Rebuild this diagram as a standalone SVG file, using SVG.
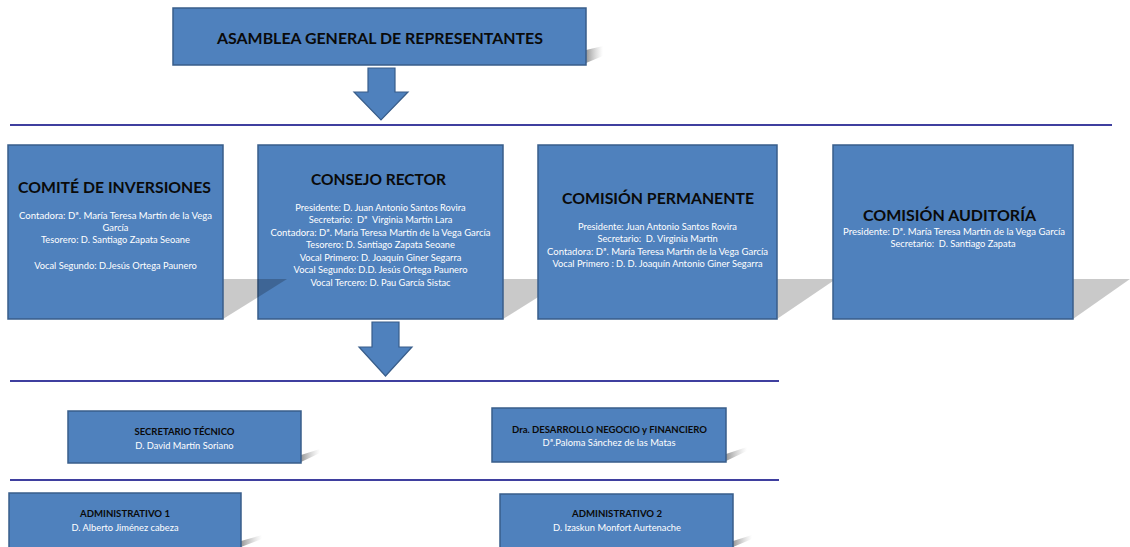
<svg xmlns="http://www.w3.org/2000/svg" width="1130" height="547" viewBox="0 0 1130 547">
<defs>
<linearGradient id="fade" x1="0" y1="0" x2="1" y2="0">
<stop offset="0" stop-color="#8a8a8a" stop-opacity="0.9"/>
<stop offset="1" stop-color="#bbbbbb" stop-opacity="0"/>
</linearGradient>
<style>
.box{fill:#4f81bd;stroke:#385d8a;stroke-width:1.5}
.shadow{fill:#000;fill-opacity:0.21}
.wisp{fill:url(#fade)}
.rule{stroke:#3f3f9f;stroke-width:2.2;fill:none}
.title{font-family:Lato,"Liberation Sans",sans-serif;font-weight:bold;fill:#0a0a0a;text-anchor:middle}
.t16{font-size:16px}
.t10{font-size:9.5px}
.txt{font-family:Lato,"Liberation Sans",sans-serif;font-size:9.3px;fill:#ffffff;text-anchor:middle}
.arrow{fill:#4f81bd;stroke:#385d8a;stroke-width:1.2}
</style>
</defs>
<rect width="1130" height="547" fill="#ffffff"/>

<g id="connectors">
<polygon class="arrow" points="368,68 395,68 395,92 408,92 381,120 354,92 368,92"/>
<line class="rule" x1="10" y1="125" x2="1112" y2="125"/>
<polygon class="arrow" points="372,322 399,322 399,347 412,347 385.5,376 359,347 372,347"/>
<line class="rule" x1="10" y1="381" x2="779" y2="381"/>
<line class="rule" x1="10" y1="480" x2="779" y2="480"/>
</g>

<g id="asamblea">
<polygon class="wisp" points="586,63 586,50 603,46 603,56"/>
<rect class="box" x="173" y="8" width="413" height="57"/>
<text class="title t16" x="380" y="43.5" textLength="326" lengthAdjust="spacingAndGlyphs">ASAMBLEA GENERAL DE REPRESENTANTES</text>
</g>

<g id="consejo">
<polygon class="shadow" points="258,319 503,319 567,279 322,279"/>
<rect class="box" x="258" y="145" width="245" height="174"/>
<text class="title t16" x="378.5" y="184.5" textLength="135" lengthAdjust="spacingAndGlyphs">CONSEJO RECTOR</text>
<text class="txt" x="380.5" y="211">Presidente: D. Juan Antonio Santos Rovira</text>
<text class="txt" x="380.5" y="223.3" xml:space="preserve">Secretario:  Dª  Virginia Martín Lara</text>
<text class="txt" x="380.5" y="235.6" textLength="220" lengthAdjust="spacingAndGlyphs">Contadora: Dª. María Teresa Martín de la Vega García</text>
<text class="txt" x="380.5" y="248.3">Tesorero: D. Santiago Zapata Seoane</text>
<text class="txt" x="380.5" y="260.6">Vocal Primero: D. Joaquín Giner Segarra</text>
<text class="txt" x="380.5" y="273.3">Vocal Segundo: D.D. Jesús Ortega Paunero</text>
<text class="txt" x="380.5" y="286">Vocal Tercero: D. Pau García Sistac</text>
</g>

<g id="comite">
<polygon class="shadow" points="8,319 223,319 287,279 72,279"/>
<rect class="box" x="8" y="145" width="215" height="174"/>
<text class="title t16" x="114.5" y="193" textLength="193" lengthAdjust="spacingAndGlyphs">COMITÉ DE INVERSIONES</text>
<text class="txt" x="115.5" y="218.5" textLength="193" lengthAdjust="spacingAndGlyphs">Contadora: Dª. María Teresa Martín de la Vega</text>
<text class="txt" x="115.5" y="230.8">García</text>
<text class="txt" x="115.5" y="243.3">Tesorero: D. Santiago Zapata Seoane</text>
<text class="txt" x="115.5" y="269.3">Vocal Segundo: D.Jesús Ortega Paunero</text>
</g>

<g id="permanente">
<polygon class="shadow" points="538,319 777,319 836,279 597,279"/>
<rect class="box" x="538" y="145" width="239" height="174"/>
<text class="title t16" x="658" y="203.5" textLength="192" lengthAdjust="spacingAndGlyphs">COMISIÓN PERMANENTE</text>
<text class="txt" x="657.5" y="230">Presidente: Juan Antonio Santos Rovira</text>
<text class="txt" x="657.5" y="242.3" xml:space="preserve">Secretario:  D. Virginia Martín</text>
<text class="txt" x="657.5" y="255" textLength="221" lengthAdjust="spacingAndGlyphs">Contadora: Dª. María Teresa Martín de la Vega García</text>
<text class="txt" x="657.5" y="267.3">Vocal Primero : D. D. Joaquín Antonio Giner Segarra</text>
</g>

<g id="auditoria">
<polygon class="shadow" points="833,319 1073,319 1130,279 890,279"/>
<rect class="box" x="833" y="145" width="240" height="174"/>
<text class="title t16" x="949.5" y="221" textLength="173" lengthAdjust="spacingAndGlyphs">COMISIÓN AUDITORÍA</text>
<text class="txt" x="954" y="235" textLength="222" lengthAdjust="spacingAndGlyphs">Presidente: Dª. María Teresa Martín de la Vega García</text>
<text class="txt" x="953" y="247.3" xml:space="preserve">Secretario:  D. Santiago Zapata</text>
</g>

<g id="secretario">
<polygon class="wisp" points="301,462 301,455 320,449 320,453"/>
<rect class="box" x="68" y="411" width="233" height="52"/>
<text class="title t10" x="184.5" y="435.3" textLength="100" lengthAdjust="spacingAndGlyphs">SECRETARIO TÉCNICO</text>
<text class="txt" x="184.5" y="448.8">D. David Martín Soriano</text>
</g>

<g id="dra">
<polygon class="wisp" points="726,461 726,454 747,447 747,451"/>
<rect class="box" x="492" y="408" width="234" height="54"/>
<text class="title t10" x="609.5" y="433.3" textLength="195" lengthAdjust="spacingAndGlyphs">Dra. DESARROLLO NEGOCIO y FINANCIERO</text>
<text class="txt" x="609" y="446.3" textLength="133" lengthAdjust="spacingAndGlyphs">Dª.Paloma Sánchez de las Matas</text>
</g>

<g id="admin1">
<polygon class="wisp" points="241,547 241,541 262,535 262,539"/>
<rect class="box" x="9" y="493" width="232" height="60"/>
<text class="title t10" x="125" y="517.3" textLength="90" lengthAdjust="spacingAndGlyphs">ADMINISTRATIVO 1</text>
<text class="txt" x="125" y="531.3">D. Alberto Jiménez cabeza</text>
</g>

<g id="admin2">
<polygon class="wisp" points="733,547 733,541 752,535 752,539"/>
<rect class="box" x="500" y="494" width="233" height="60"/>
<text class="title t10" x="617" y="517.3" textLength="90" lengthAdjust="spacingAndGlyphs">ADMINISTRATIVO 2</text>
<text class="txt" x="617" y="531.3" textLength="128" lengthAdjust="spacingAndGlyphs">D. Izaskun Monfort Aurtenache</text>
</g>
</svg>
